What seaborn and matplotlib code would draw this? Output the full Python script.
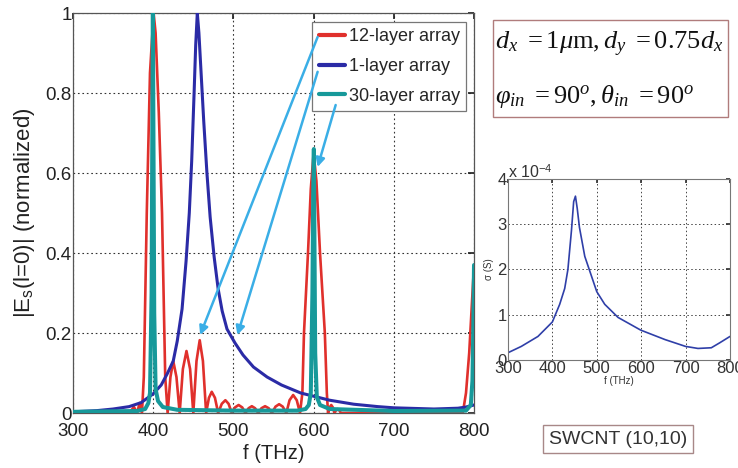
import numpy as np
import pandas as pd
import matplotlib
matplotlib.use("Agg")
import matplotlib.pyplot as plt
import seaborn as sns
from matplotlib.patches import Rectangle

# ---------------- data ----------------
red_f = [300, 330, 350, 360, 365, 370, 376, 380, 383, 386, 388.3, 392, 396, 400.5, 403, 407, 411, 415, 418,
         421.5, 425, 429, 433,
         437, 441.5, 446, 450,
         454, 458, 462, 466,
         469.5, 473, 477, 481,
         485.5, 490, 494, 498,
         502, 506.5, 511, 515,
         519, 523, 527, 531,
         535, 539.5, 544, 548,
         552.5, 557, 561.5, 566,
         570, 574.5, 579, 583,
         586, 588, 593, 596.5, 600, 603.5, 608, 614, 616.5, 618,
         620, 622, 624, 626,
         628, 630, 632, 634,
         700, 786, 790, 794, 797, 800]
red_v = [0.0, 0.002, 0.003, 0.0, 0.005, 0.0, 0.015, 0.0, 0.025, 0.0, 0.09, 0.5, 0.85, 1.0, 0.95, 0.75, 0.5, 0.09, 0.0,
         0.09, 0.13, 0.09, 0.0,
         0.11, 0.155, 0.11, 0.0,
         0.13, 0.182, 0.13, 0.0,
         0.038, 0.053, 0.038, 0.0,
         0.023, 0.032, 0.023, 0.0,
         0.014, 0.02, 0.014, 0.0,
         0.012, 0.017, 0.012, 0.0,
         0.012, 0.017, 0.012, 0.0,
         0.016, 0.022, 0.016, 0.0,
         0.032, 0.045, 0.032, 0.0,
         0.05, 0.2, 0.4, 0.56, 0.65, 0.58, 0.4, 0.2, 0.05, 0.0,
         0.014, 0.02, 0.014, 0.0,
         0.007, 0.01, 0.007, 0.0,
         0.0, 0.0, 0.05, 0.15, 0.26, 0.37]

blue_f = [300, 330, 350, 370, 385, 400, 410, 418, 425, 430, 436, 441, 445, 448, 451, 453, 455, 457, 460, 463,
          467, 471, 476, 481, 486, 492, 502, 512, 525, 542, 560, 584, 600, 620, 650, 680, 700, 750, 780, 790, 800]
blue_v = [0.003, 0.006, 0.01, 0.016, 0.026, 0.048, 0.07, 0.1, 0.13, 0.18, 0.26, 0.38, 0.5, 0.63, 0.8, 0.92, 1.0, 0.95,
          0.84, 0.73, 0.6, 0.49, 0.39, 0.31, 0.255, 0.21, 0.175, 0.145, 0.115, 0.09, 0.07, 0.05, 0.042, 0.032, 0.022,
          0.016, 0.013, 0.01, 0.012, 0.015, 0.02]

cyan_f = [300, 380, 390, 394, 396, 398, 399, 399.6, 400.3, 401.3, 403, 406, 412, 430, 500, 580, 590, 594, 596.5,
          598.5, 599.5, 600.3, 601, 602, 604, 608, 620, 700, 790, 796, 798, 799, 800]
cyan_v = [0.003, 0.005, 0.01, 0.025, 0.05, 0.3, 0.75, 1.0, 0.7, 0.25, 0.06, 0.03, 0.015, 0.008, 0.006, 0.006, 0.01,
          0.02, 0.05, 0.3, 0.55, 0.66, 0.45, 0.15, 0.04, 0.02, 0.01, 0.005, 0.006, 0.02, 0.08, 0.2, 0.37]

inset_f = [300, 330, 367.5, 400, 416.5, 427.8, 435, 443, 448, 452, 456, 461, 473, 500, 518, 548, 599, 654, 700,
           728, 758, 777, 800]
inset_sigma_1e4 = [0.16, 0.30, 0.52, 0.84, 1.23, 1.58, 2.0, 2.86, 3.5, 3.62, 3.35, 2.93, 2.29, 1.51, 1.23, 0.94,
                   0.66, 0.45, 0.30, 0.255, 0.27, 0.38, 0.52]

series_labels = ["12-layer array", "1-layer array", "30-layer array"]
xticks = [300, 400, 500, 600, 700, 800]
yticks = [0, 0.2, 0.4, 0.6, 0.8, 1]
ytick_labels = ["0", "0.2", "0.4", "0.6", "0.8", "1"]
inset_yticks = [0, 1, 2, 3, 4]

# arrows: (tail (f, v), head (f, v))
arrows = [((605, 0.94), (458.5, 0.195)),
          ((605, 0.853), (505, 0.195)),
          ((627.5, 0.77), (605, 0.615))]

# ---------------- style ----------------
sns.set_theme(style="white")
sans = ["Liberation Sans", "DejaVu Sans"]
plt.rcParams["font.family"] = sans
plt.rcParams["mathtext.fontset"] = "custom"
plt.rcParams["mathtext.rm"] = "Liberation Serif"
plt.rcParams["mathtext.it"] = "Liberation Serif:italic"
plt.rcParams["mathtext.bf"] = "Liberation Serif:bold"

RED = "#e0302c"
BLUE = "#2b2ba6"
CYAN = "#17999a"
ARROW = "#3aaee6"
TXT = "#222222"

fig = plt.figure(figsize=(7.38, 4.68), dpi=100)
ax = fig.add_axes([0.0989, 0.1175, 0.5434, 0.8547])

df_red = pd.DataFrame({"f": red_f, "v": red_v})
df_blue = pd.DataFrame({"f": blue_f, "v": blue_v})
df_cyan = pd.DataFrame({"f": cyan_f, "v": cyan_v})

sns.lineplot(data=df_red, x="f", y="v", ax=ax, color=RED, lw=1.9, label=series_labels[0], zorder=3)
sns.lineplot(data=df_blue, x="f", y="v", ax=ax, color=BLUE, lw=2.2, label=series_labels[1], zorder=4)
sns.lineplot(data=df_cyan, x="f", y="v", ax=ax, color=CYAN, lw=2.9, label=series_labels[2], zorder=5)

ax.set_xlim(300, 800)
ax.set_ylim(0, 1)
ax.set_xticks(xticks)
ax.set_xticklabels([str(t) for t in xticks])
ax.set_yticks(yticks)
ax.set_yticklabels(ytick_labels)
ax.tick_params(axis="both", direction="in", length=4, labelsize=13.5, colors=TXT,
               top=True, right=True)
ax.tick_params(axis="x", pad=7)
ax.tick_params(axis="y", pad=1)
ax.grid(True, linestyle=(0, (1.5, 2.5)), color="#333333", lw=0.8)
for s in ax.spines.values():
    s.set_color("#555555")
    s.set_linewidth(0.9)
ax.set_xlabel("f (THz)", fontsize=14.5, color=TXT, labelpad=3)
ax.set_ylabel(r"|E$_{\mathregular{s}}$(l=0)| (normalized)", fontsize=16, color=TXT, labelpad=6)

leg = ax.legend(loc="upper right", bbox_to_anchor=(0.98, 0.9775), borderaxespad=0,
                fontsize=13, frameon=True, fancybox=False, framealpha=1,
                edgecolor="#777777", handlelength=1.45, handletextpad=0.2,
                labelspacing=0.7, borderpad=0.35)
leg.get_frame().set_linewidth(0.9)
for line in leg.get_lines():
    line.set_linewidth(3)
leg.set_zorder(6)

for (xs, ys), (xe, ye) in arrows:
    ax.annotate("", xy=(xe, ye), xytext=(xs, ys), xycoords="data", textcoords="data",
                arrowprops=dict(arrowstyle="-|>", color=ARROW, lw=1.8, mutation_scale=13,
                                shrinkA=0, shrinkB=0),
                zorder=7, annotation_clip=False)

# ---------------- inset ----------------
ax2 = fig.add_axes([0.6883, 0.2308, 0.3008, 0.3868])
df_in = pd.DataFrame({"f": inset_f, "s": inset_sigma_1e4})
sns.lineplot(data=df_in, x="f", y="s", ax=ax2, color="#2f3fa8", lw=1.2)
ax2.set_xlim(300, 800)
ax2.set_ylim(0, 4)
ax2.set_xticks(xticks)
ax2.set_yticks(inset_yticks)
ax2.set_yticklabels([str(t) for t in inset_yticks])
ax2.tick_params(axis="both", direction="in", length=3, labelsize=12, colors="#333333",
                top=True, right=True, pad=1)
ax2.grid(True, linestyle=(0, (1.5, 2.5)), color="#444444", lw=0.7)
for s in ax2.spines.values():
    s.set_color("#777777")
    s.set_linewidth(0.8)
ax2.set_xlabel("f (THz)", fontsize=7, color="#333333", labelpad=0)
ax2.set_ylabel("σ (S)", fontsize=7, color="#333333", labelpad=2)
ax2.text(0.0, 0.99, r"x 10$^{\mathregular{-4}}$", transform=ax2.transAxes, fontsize=11.5,
         color="#333333", ha="left", va="bottom")

# ---------------- parameter box ----------------
fig.patches.append(Rectangle((493 / 738, 1 - 117 / 468), 235 / 738, 97 / 468,
                             transform=fig.transFigure, fill=False, edgecolor="#b07c7c", lw=1.0))
fig.text(495 / 738, 1 - 44 / 468, r"$d_x\ =1\mu\mathrm{m},d_y\ =0.75d_x$", fontsize=19,
         ha="left", va="center", color="#111111")
fig.text(495 / 738, 1 - 97 / 468, r"$\varphi_{in}\ =90^o,\theta_{in}\ =90^o$", fontsize=19,
         ha="left", va="center", color="#111111")

# ---------------- SWCNT box ----------------
fig.text(618 / 738, 1 - 439 / 468, "SWCNT (10,10)", fontsize=14, ha="center", va="center",
         color="#333333",
         bbox=dict(boxstyle="square,pad=0.3", fc="white", ec="#a88888", lw=1.0))

fig.savefig("out.png", dpi=100)
